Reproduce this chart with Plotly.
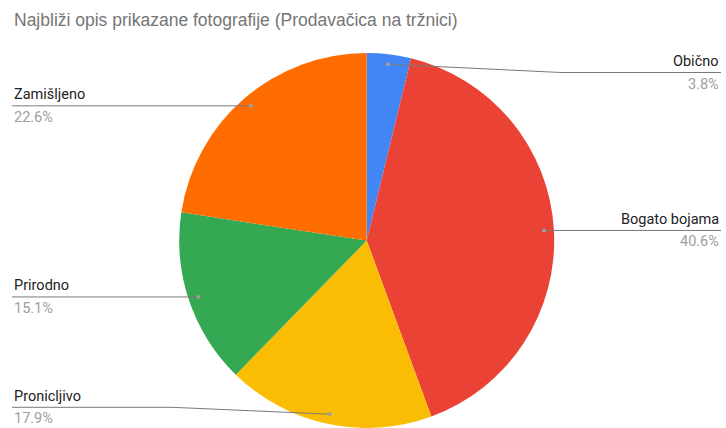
import math
import plotly.graph_objects as go

# ---- data ----
categories = ["Obično", "Bogato bojama", "Pronicljivo", "Prirodno", "Zamišljeno"]
values = [3.8, 40.6, 17.9, 15.1, 22.6]
pct_labels = ["3.8%", "40.6%", "17.9%", "15.1%", "22.6%"]
colors = ["#4285F4", "#EA4335", "#FBBC04", "#34A853", "#FF6D01"]
title_text = "Najbliži opis prikazane fotografije (Prodavačica na tržnici)"

# ---- layout constants (pixels) ----
W, H = 726, 428
CX, CY, R = 366.7, 240.5, 187.5
DOT_R = 0.947 * R
LEFT_X, RIGHT_X = 12, 721
ELBOW = 160
Y_MIN, Y_MAX = 72.5, 407.3


def px(x):
    return x / W


def py(y):
    return 1 - y / H


fig = go.Figure()
fig.add_trace(go.Pie(
    labels=categories,
    values=values,
    marker=dict(colors=colors, line=dict(width=0)),
    sort=False,
    direction="clockwise",
    rotation=0,
    textinfo="none",
    hoverinfo="label+percent",
    showlegend=False,
    domain=dict(x=[px(CX - R), px(CX + R)], y=[1 - (CY + R) / H, 1 - (CY - R) / H]),
))

shapes = []
annotations = []
total = sum(values)
cum = 0.0
for name, v, pl in zip(categories, values, pct_labels):
    mid = (cum + v / 2) / total * 2 * math.pi
    cum += v
    dx = DOT_R * math.sin(mid)
    dy = -DOT_R * math.cos(mid)
    dot_x, dot_y = CX + dx, CY + dy
    right = dx >= 0
    line_y = min(max(dot_y, Y_MIN), Y_MAX)
    edge_x = RIGHT_X if right else LEFT_X
    elbow_x = edge_x - ELBOW if right else edge_x + ELBOW
    path = (f"M {px(dot_x)} {py(dot_y)} L {px(elbow_x)} {py(line_y)} "
            f"L {px(edge_x)} {py(line_y)}")
    shapes.append(dict(type="path", xref="paper", yref="paper", path=path,
                       line=dict(color="#7a7a7a", width=1)))
    shapes.append(dict(type="circle", xref="paper", yref="paper",
                       xsizemode="pixel", ysizemode="pixel",
                       xanchor=px(dot_x), yanchor=py(dot_y),
                       x0=-2, x1=2, y0=-2, y1=2,
                       fillcolor="#9e9e9e", line=dict(width=0)))
    anchor = "right" if right else "left"
    annotations.append(dict(x=px(edge_x), y=py(line_y - 11), xref="paper", yref="paper",
                            text=name, showarrow=False, xanchor=anchor, yanchor="middle",
                            font=dict(family="Roboto", size=14.5, color="#222222")))
    annotations.append(dict(x=px(edge_x), y=py(line_y + 11.5), xref="paper", yref="paper",
                            text=pl, showarrow=False, xanchor=anchor, yanchor="middle",
                            font=dict(family="Roboto", size=14.5, color="#9e9e9e")))

annotations.append(dict(x=px(12), y=py(20), xref="paper", yref="paper",
                        text=title_text, showarrow=False, xanchor="left", yanchor="middle",
                        font=dict(family="Liberation Sans, Arial", size=17.5, color="#757575")))

fig.update_layout(
    width=W, height=H,
    margin=dict(l=0, r=0, t=0, b=0),
    paper_bgcolor="white", plot_bgcolor="white",
    shapes=shapes, annotations=annotations,
)

fig.write_html("out.html", config={"displayModeBar": False},
               post_script="document.body.style.margin='0';document.body.style.overflow='hidden';")
